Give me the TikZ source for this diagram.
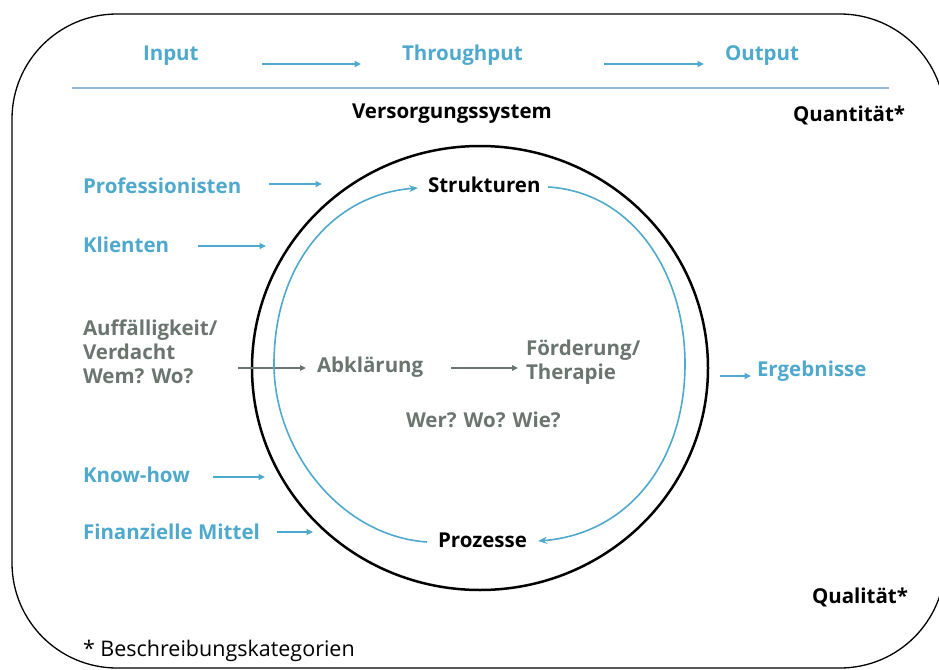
\documentclass[tikz,border=0pt]{standalone}
\usepackage{fontspec}
\setmainfont{Open Sans}
\usetikzlibrary{arrows.meta}
\definecolor{cblue}{HTML}{4FA9CC}
\definecolor{cgrey}{HTML}{6B7570}
\definecolor{cline}{HTML}{93B7D9}
\begin{document}
\begin{tikzpicture}[x=1pt,y=-1pt,
  every node/.style={inner sep=0pt,outer sep=0pt},
  lbl/.style={font=\fontsize{20.5}{24}\selectfont\bfseries, anchor=base west},
  bluetxt/.style={lbl,text=cblue},
  greytxt/.style={lbl,text=cgrey},
  blacktxt/.style={lbl,text=black},
  barrow/.style={draw=cblue,line width=2.5pt,-{Triangle[length=6.5pt,width=6pt]}},
  garrow/.style={draw=cgrey,line width=1.8pt,-{Triangle[length=6pt,width=5.5pt]}},
  loop/.style={draw=cblue,line width=1.6pt,-{Stealth[length=9pt,width=7pt,inset=3pt]}}]
\useasboundingbox (0,0) rectangle (939,669);
\begin{scope}
  \clip (0,0) rectangle (939,669);
  \draw[line width=1.3pt,rounded corners=105pt] (12,14) rectangle (945,668);
\end{scope}
% header
\node[bluetxt] (input) at (143,60) {Input};
\node[bluetxt] (through) at (402,60) {Throughput};
\node[bluetxt] (output) at (725,60) {Output};
\coordinate (a1s) at (262,64); \coordinate (a1e) at (361,64);
\coordinate (a2s) at (604,64); \coordinate (a2e) at (704,64);
\draw[barrow] (a1s) -- (a1e);
\draw[barrow] (a2s) -- (a2e);
\coordinate (hl1) at (72,88); \coordinate (hl2) at (889,88);
\draw[cline,line width=1.5pt] (hl1) -- (hl2);
\node[blacktxt] (vs) at (352,118) {Versorgungssystem};
\node[blacktxt] (quant) at (793,121) {Quantität*};
% circle
\coordinate (cc) at (480,368);
\draw[line width=2.5pt] (cc) ellipse [x radius=228, y radius=222];
% left inputs
\node[bluetxt] (prof) at (83,193) {Professionisten};
\coordinate (profe) at (322,184); \coordinate (profs) at (269,184);
\draw[barrow] (profs) -- (profe);
\node[bluetxt] (kli) at (83,252) {Klienten};
\coordinate (klis) at (198,246); \coordinate (klie) at (266,246);
\draw[barrow] (klis) -- (klie);
\node[greytxt,align=left] (auff) at (83,383) {Auffälligkeit/\\Verdacht\\Wem? Wo?};
\coordinate (auffs) at (238,368); \coordinate (auffe) at (306,368);
\draw[garrow] (auffs) -- (auffe);
\node[greytxt] (abk) at (317,372) {Abklärung};
\node[greytxt,align=left] (foerd) at (526,379) {Förderung/\\Therapie};
\coordinate (abke) at (451,368); \coordinate (foerde) at (518,368);
\draw[garrow] (abke) -- (foerde);
\node[greytxt] (wer) at (406,427) {Wer? Wo? Wie?};
\node[bluetxt] (know) at (83,482) {Know-how};
\coordinate (knows) at (213,477); \coordinate (knowe) at (265,477);
\draw[barrow] (knows) -- (knowe);
\node[bluetxt] (fin) at (83,539) {Finanzielle Mittel};
\coordinate (fins) at (277,532); \coordinate (fine) at (313,532);
\draw[barrow] (fins) -- (fine);
% right
\coordinate (ergs) at (720,376); \coordinate (erge) at (751,376);
\draw[barrow] (ergs) -- (erge);
\node[bluetxt] (erg) at (757,376) {Ergebnisse};
% loop
\node[blacktxt] (str) at (428,192) {Strukturen};
\node[blacktxt] (proz) at (438,547) {Prozesse};
\coordinate (l0) at (427,542); \coordinate (lm) at (274,364); \coordinate (l1) at (418,188);
\coordinate (r0) at (548,187); \coordinate (rm) at (685,364); \coordinate (r1) at (538,541);
\draw[loop] (l0) .. controls (340,536) and (274,450) .. (lm) .. controls (274,262) and (335,194) .. (l1);
\draw[loop] (r0) .. controls (632,192) and (685,272) .. (rm) .. controls (685,462) and (628,534) .. (r1);
% footer
\node[blacktxt] (qual) at (812,603) {Qualität*};
\node[anchor=base west,font=\fontsize{21.5}{24}\selectfont,text=black] (foot) at (83,656) {* Beschreibungskategorien};
\end{tikzpicture}
\end{document}
